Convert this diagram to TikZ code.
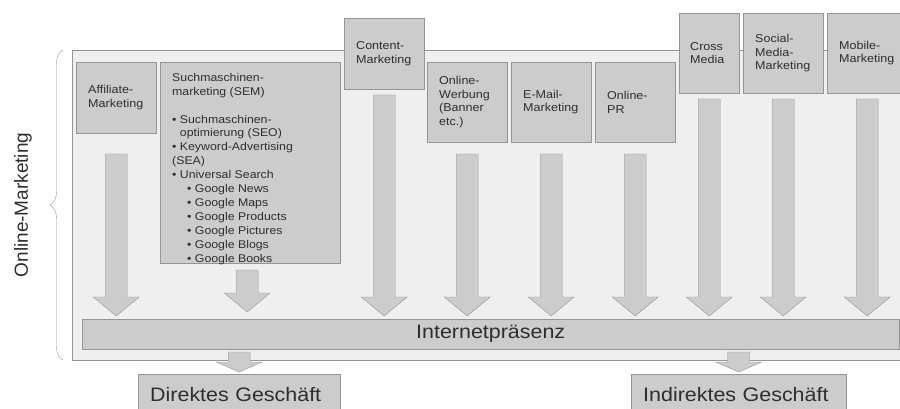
\documentclass[tikz,border=0pt]{standalone}
\usepackage{fontspec}
\setmainfont{Liberation Sans}[FakeStretch=1.1]
\newfontfamily\plainsans{Liberation Sans}
\usetikzlibrary{decorations.pathreplacing}

\definecolor{boxgray}{HTML}{CCCCCC}
\definecolor{framegray}{HTML}{EFEFEF}
\definecolor{linegray}{HTML}{959595}
\definecolor{textgray}{HTML}{2E2E2E}

% Blockpfeil nach unten: Spitze im Ursprung, #1 = Laenge, #2 = Kopflaenge
\tikzset{
    pics/blockpfeil/.style 2 args={code={
        \draw[draw=linegray, fill=boxgray] (0,0) -- (23,-#2) -- (11,-#2) -- (11,-#1)
            -- (-11,-#1) -- (-11,-#2) -- (-23,-#2) -- cycle;
    }}
}

\begin{document}
\begin{tikzpicture}[x=1pt, y=-1pt,
    % graue Kaesten, Text links und vertikal zentriert
    kasten/.style={draw=linegray, fill=boxgray, text=textgray, anchor=north west,
        inner xsep=12pt, inner ysep=0pt, align=left,
        font=\fontsize{11.4}{13.5}\selectfont},
    gross/.style={font=\fontsize{19.5}{24}\selectfont}
]
    \useasboundingbox (0,0) rectangle (900,409);
    \clip (0,0) rectangle (900,409);

    % Rahmen und geschweifte Klammer
    \node[draw=linegray, fill=framegray, anchor=north west, inner sep=0pt,
        minimum width=850pt, minimum height=310pt] (rahmen) at (72,50) {};
    \draw[linegray, decorate, decoration={brace, amplitude=13pt}] (63,360) -- (63,50);
    \node[rotate=90, text=textgray, font=\plainsans\fontsize{19}{22}\selectfont] (om) at (23,205) {Online-Marketing};

    % Instrumente
    \node[kasten, minimum width=80pt, minimum height=71pt, text width=56pt] (aff) at (76,62) {Affiliate-\\Marketing};
    \node[kasten, minimum width=180pt, minimum height=201pt] (sem) at (160,62) {};
    \node[text=textgray, anchor=north west, inner sep=0pt, align=left,
        font=\fontsize{11.2}{13.9}\selectfont] (semtext) at (172,73) {%
        Suchmaschinen-\\
        marketing (SEM)\\[13.9pt]
        • Suchmaschinen-\\
        \hphantom{• }optimierung (SEO)\\
        • Keyword-Advertising\\
        (SEA)\\
        • Universal Search\\
        \hspace*{15pt}• Google News\\
        \hspace*{15pt}• Google Maps\\
        \hspace*{15pt}• Google Products\\
        \hspace*{15pt}• Google Pictures\\
        \hspace*{15pt}• Google Blogs\\
        \hspace*{15pt}• Google Books};
    \node[kasten, minimum width=80pt, minimum height=71pt, text width=56pt] (cont) at (344,18) {Content-\\Marketing};
    \node[kasten, minimum width=80pt, minimum height=80pt, text width=56pt] (werb) at (427,62) {Online-\\Werbung\\(Banner\\etc.)};
    \node[kasten, minimum width=80pt, minimum height=80pt, text width=56pt] (email) at (511,62) {E-Mail-\\Marketing};
    \node[kasten, minimum width=80pt, minimum height=80pt, text width=56pt] (pr) at (595,62) {Online-\\PR};
    \node[kasten, minimum width=60pt, minimum height=80pt, text width=38pt, inner xsep=11pt] (cross) at (679,13) {Cross\\Media};
    \node[kasten, minimum width=80pt, minimum height=80pt, text width=56pt] (social) at (743,13) {Social-\\Media-\\Marketing};
    \node[kasten, minimum width=80pt, minimum height=80pt, text width=56pt, inner xsep=11pt] (mobile) at (827,13) {Mobile-\\Marketing};

    % Internetpraesenz und Geschaeft
    \node[kasten, gross, align=center, inner xsep=0pt, minimum width=817pt, minimum height=30pt] (bar) at (82,319) {Internetpräsenz};
    \node[kasten, gross, minimum width=202pt, minimum height=41pt, text width=178pt] (direkt) at (138,374) {Direktes Geschäft};
    \node[kasten, gross, minimum width=215pt, minimum height=41pt, text width=191pt] (indirekt) at (631,374) {Indirektes Geschäft};

    % Pfeile auf die Internetpraesenz
    \foreach \n/\l in {aff/162, cont/221, werb/162, email/162, pr/162, cross/217, social/217, mobile/217}
        \pic[yshift=3pt] at (\n.south |- bar.north) {blockpfeil={\l}{19}};
    \pic[xshift=-3pt, yshift=7pt] at (sem.south |- bar.north) {blockpfeil={42}{19}};

    % Pfeile zum Geschaeft
    \pic[yshift=2pt] at (direkt.north) {blockpfeil={20}{10}};
    \pic[yshift=2pt] at (indirekt.north) {blockpfeil={20}{10}};
\end{tikzpicture}
\end{document}
